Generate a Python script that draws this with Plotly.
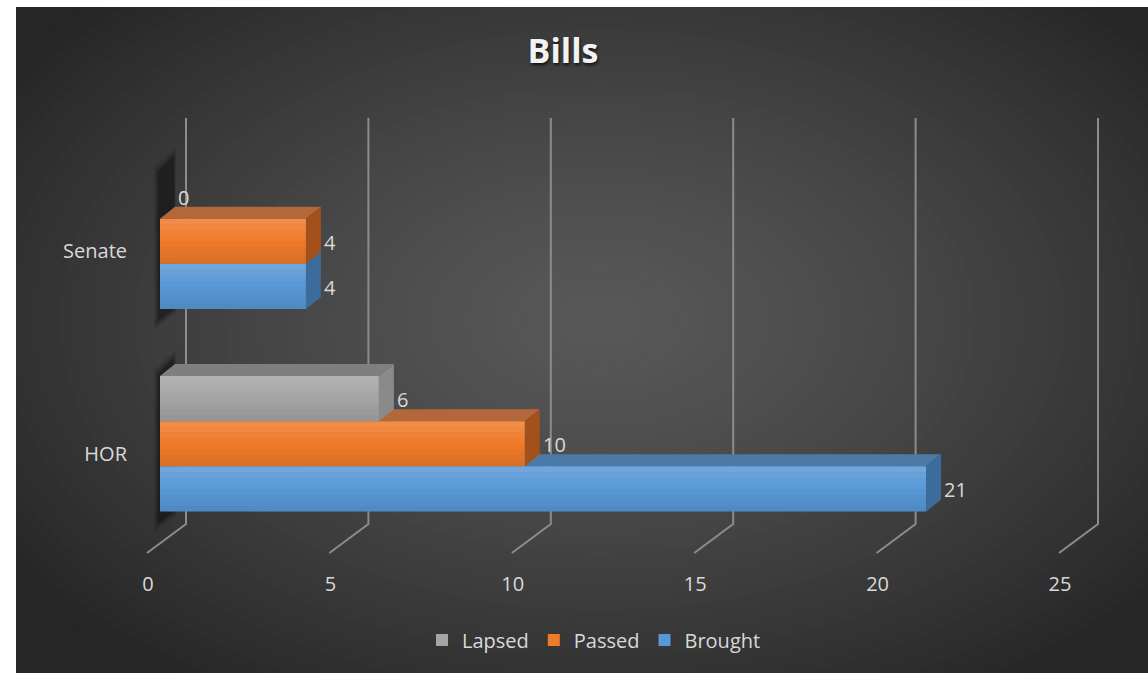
import plotly.graph_objects as go

# ---------------- data ----------------
categories = ["HOR", "Senate"]
series_names = ["Brought", "Passed", "Lapsed"]
brought = [21, 4]
passed = [10, 4]
lapsed = [6, 0]
x_tick_vals = [0, 5, 10, 15, 20, 25]

series_values = [brought, passed, lapsed]

# ---------------- styling ----------------
front_colors = ["#5898d6", "#ef7b2a", "#a5a5a5"]
top_colors = ["#4c7aa6", "#b4673b", "#7f7f7f"]
side_colors = ["#3b6c9b", "#a3511c", "#8a8a8a"]

W, H = 1148, 673
L, R, T, B = 160, 76, 140, 128
PW = W - L - R
PH = H - T - B
X_RANGE = [0, 25]
Y_RANGE = [-0.5, 1.5]
GROUP = 0.67
BW = GROUP / 3
DX, DY = 15, 12          # depth of bars in pixels
TXT = "#d9d9d9"
FONT = "Open Sans"


def fx(v):  # data x -> paper
    return (v - X_RANGE[0]) / (X_RANGE[1] - X_RANGE[0])


def fy(v):  # data y -> paper
    return (v - Y_RANGE[0]) / (Y_RANGE[1] - Y_RANGE[0])


def ppx(px):  # pixel offset -> paper x
    return px / PW


def ppy(py):  # pixel offset (up positive) -> paper y
    return py / PH


def pgx(px):  # absolute page pixel -> paper x
    return (px - L) / PW


def pgy(py):  # absolute page pixel -> paper y
    return (H - B - py) / PH


def poly(points):
    return "M " + " L ".join(f"{x:.5f},{y:.5f}" for x, y in points) + " Z"


shapes = []

# background: dark radial gradient built from opaque concentric ellipses
shapes.append(dict(type="rect", xref="paper", yref="paper", x0=pgx(-2), x1=pgx(W + 2),
                   y0=pgy(H + 2), y1=pgy(-2), fillcolor="#262626", line_width=0, layer="below"))
CX, CY, RX, RY = 600, 320, 720, 450
N = 48
for k in range(N, 0, -1):
    f = k / N
    g = int(round(38 + (88 - 38) * (1 - f ** 1.3)))
    shapes.append(dict(type="circle", xref="paper", yref="paper",
                       x0=pgx(CX - RX * f), x1=pgx(CX + RX * f),
                       y0=pgy(CY + RY * f), y1=pgy(CY - RY * f),
                       fillcolor=f"rgb({g},{g},{g})", line_width=0, layer="below"))
# white page border (left and top strips)
shapes.append(dict(type="rect", xref="paper", yref="paper", x0=pgx(-2), x1=pgx(16),
                   y0=pgy(H + 2), y1=pgy(-2), fillcolor="white", line_width=0, layer="below"))
shapes.append(dict(type="rect", xref="paper", yref="paper", x0=pgx(-2), x1=pgx(W + 2),
                   y0=pgy(7), y1=pgy(-2), fillcolor="white", line_width=0, layer="below"))

# grid lines: back wall verticals plus floor diagonals
for v in x_tick_vals:
    x = fx(v)
    pts = [(x + ppx(26), pgy(118)), (x + ppx(26), pgy(524)), (x + ppx(-13), pgy(553))]
    shapes.append(dict(type="path", xref="paper", yref="paper",
                       path="M " + " L ".join(f"{a:.5f},{b:.5f}" for a, b in pts),
                       line=dict(color="#8c8c8c", width=2), layer="below"))

# soft shadows at the left end of each bar group
for ci in range(len(categories)):
    x0 = fx(0)
    yt = fy(ci + GROUP / 2)
    yb = fy(ci - GROUP / 2)
    for grow, op in [(4, 0.12), (2, 0.16), (0, 0.24)]:
        pts = [(x0 + ppx(-2 - grow), yb - ppy(12 + 2 * grow)), (x0 + ppx(-2 - grow), yt + ppy(2 + grow)),
               (x0 + ppx(14 + grow * 0.5), yt + ppy(18 + 2 * grow)),
               (x0 + ppx(14 + grow * 0.5), yb + ppy(0 - grow))]
        shapes.append(dict(type="path", xref="paper", yref="paper", path=poly(pts),
                           fillcolor="black", opacity=op, line_width=0, layer="between"))

# 3D top and side faces of the bars
for ci in range(len(categories)):
    for sj, vals in enumerate(series_values):
        v = vals[ci]
        if v <= 0:
            continue
        yb = fy(ci - GROUP / 2 + sj * BW)
        yt = fy(ci - GROUP / 2 + (sj + 1) * BW)
        xa, xb = fx(0), fx(v)
        top = [(xa, yt), (xb, yt), (xb + ppx(DX), yt + ppy(DY)), (xa + ppx(DX), yt + ppy(DY))]
        side = [(xb, yb), (xb, yt), (xb + ppx(DX), yt + ppy(DY)), (xb + ppx(DX), yb + ppy(DY))]
        shapes.append(dict(type="path", xref="paper", yref="paper", path=poly(top),
                           fillcolor=top_colors[sj], line_width=0, layer="between"))
        shapes.append(dict(type="path", xref="paper", yref="paper", path=poly(side),
                           fillcolor=side_colors[sj], line_width=0, layer="between"))

# subtle vertical shading on the bar fronts (light top, darker bottom)
NS = 8
for ci in range(len(categories)):
    for sj, vals in enumerate(series_values):
        v = vals[ci]
        if v <= 0:
            continue
        y0 = ci - GROUP / 2 + sj * BW
        for s in range(NS):
            t = (s + 0.5) / NS          # 0 = bottom, 1 = top
            if t >= 0.5:
                col, op = "white", 0.16 * (t - 0.5) * 2
            else:
                col, op = "black", 0.10 * (0.5 - t) * 2
            shapes.append(dict(type="rect", xref="x", yref="y", x0=0, x1=v,
                               y0=y0 + BW * s / NS, y1=y0 + BW * (s + 1) / NS,
                               fillcolor=col, opacity=op, line_width=0, layer="above"))

fig = go.Figure()
ypos = list(range(len(categories)))
for sj, (name, vals) in enumerate(zip(series_names, series_values)):
    fig.add_trace(go.Bar(
        name=name, orientation="h", x=vals, y=ypos,
        offset=-GROUP / 2 + sj * BW, width=BW,
        marker=dict(color=front_colors[sj], line_width=0),
        hoverinfo="x+name",
    ))

annotations = []
for sj, vals in enumerate(series_values):
    for ci, v in enumerate(vals):
        annotations.append(dict(
            x=v, y=ci - GROUP / 2 + (sj + 0.5) * BW, xref="x", yref="y",
            text=str(v), showarrow=False, xanchor="left", yanchor="middle",
            xshift=16, yshift=-1, font=dict(family=FONT, size=20, color=TXT)))

fig.update_layout(
    width=W, height=H,
    margin=dict(l=L, r=R, t=T, b=B, autoexpand=False),
    paper_bgcolor="white", plot_bgcolor="rgba(0,0,0,0)",
    barmode="overlay",
    title=dict(text="<b>Bills</b>", x=pgx(563), xref="paper", xanchor="center",
               y=1 - 51 / H, yanchor="middle",
               font=dict(family=FONT, size=34, color="#f2f2f2",
                         shadow="1px 2px 3px rgba(0,0,0,0.7)")),
    xaxis=dict(range=X_RANGE, tickvals=x_tick_vals, showgrid=False, zeroline=False,
               showline=False, ticks="", ticklabelshift=-12, ticklabelstandoff=25,
               tickfont=dict(family=FONT, size=20, color=TXT), fixedrange=True),
    yaxis=dict(range=Y_RANGE, tickvals=ypos, ticktext=categories, showgrid=False,
               zeroline=False, showline=False, ticks="", ticklabelshift=10,
               ticklabelstandoff=32, tickfont=dict(family=FONT, size=20, color=TXT),
               fixedrange=True),
    legend=dict(orientation="h", traceorder="reversed", x=pgx(594), xanchor="center",
                y=pgy(640), yanchor="middle", bgcolor="rgba(0,0,0,0)",
                font=dict(family=FONT, size=20, color=TXT)),
    shapes=shapes,
    annotations=annotations,
    showlegend=True,
)

fig.write_html("out.html", config={"displayModeBar": False},
               post_script="document.body.style.margin='0';")
